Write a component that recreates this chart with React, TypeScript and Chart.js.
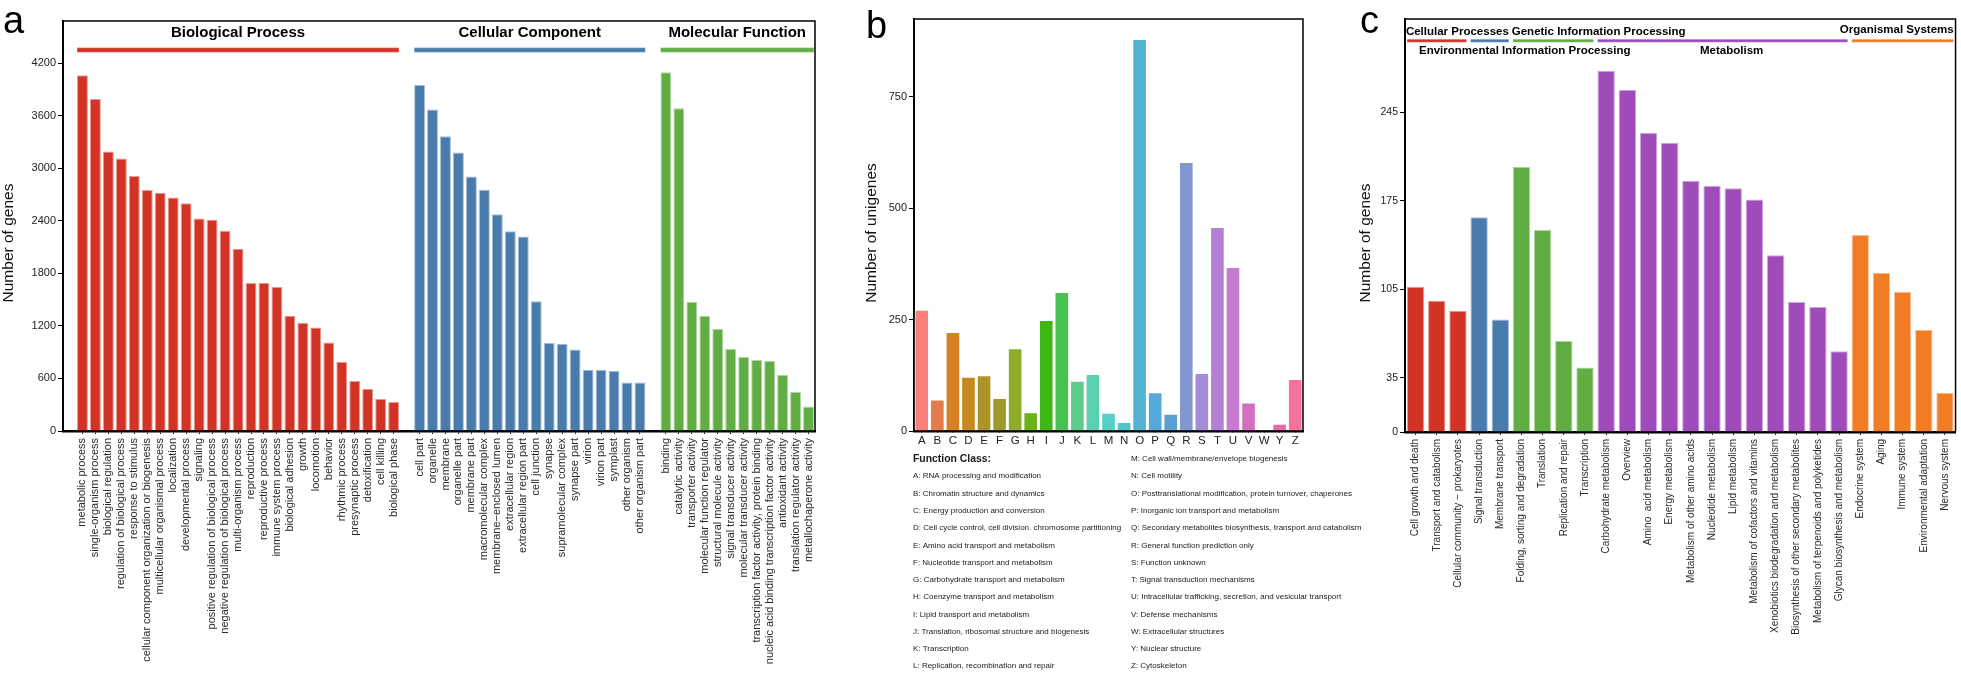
import { useEffect, useRef } from 'react';
import { Chart, registerables } from 'chart.js';
Chart.register(...registerables);

const FONT = '"Liberation Sans", Arial, Helvetica, sans-serif';
const H = 674;

// ---------- Panel a: GO ----------
const bpLabels = ['metabolic process', 'single-organism process', 'biological regulation', 'regulation of biological process', 'response to stimulus', 'cellular component organization or biogenesis', 'multicellular organismal process', 'localization', 'developmental process', 'signaling', 'positive regulation of biological process', 'negative regulation of biological process', 'multi-organism process', 'reproduction', 'reproductive process', 'immune system process', 'biological adhesion', 'growth', 'locomotion', 'behavior', 'rhythmic process', 'presynaptic process', 'detoxification', 'cell killing', 'biological phase'];
const bpValues = [4060, 3790, 3190, 3110, 2910, 2750, 2720, 2665, 2600, 2425, 2410, 2285, 2080, 1690, 1690, 1645, 1315, 1235, 1180, 1010, 790, 570, 480, 365, 330];
const ccLabels = ['cell part', 'organelle', 'membrane', 'organelle part', 'membrane part', 'macromolecular complex', 'membrane\u2212enclosed lumen', 'extracellular region', 'extracellular region part', 'cell junction', 'synapse', 'supramolecular complex', 'synapse part', 'virion', 'virion part', 'symplast', 'other organism', 'other organism part'];
const ccValues = [3950, 3670, 3365, 3180, 2905, 2755, 2475, 2280, 2220, 1480, 1005, 995, 930, 700, 700, 685, 555, 555];
const mfLabels = ['binding', 'catalytic activity', 'transporter activity', 'molecular function regulator', 'structural molecule activity', 'signal transducer activity', 'molecular transducer activity', 'transcription factor activity, protein binding', 'nucleic acid binding transcription factor activity', 'antioxidant activity', 'translation regulator activity', 'metallochaperone activity'];
const mfValues = [4095, 3685, 1475, 1315, 1165, 935, 845, 810, 800, 640, 445, 280];
const goGroupNames = ['Biological Process', 'Cellular Component', 'Molecular Function'];
const goTicks = [0, 600, 1200, 1800, 2400, 3000, 3600, 4200];
const goAxisMax = 4680;

// ---------- Panel b: COG ----------
const cogLetters = ['A', 'B', 'C', 'D', 'E', 'F', 'G', 'H', 'I', 'J', 'K', 'L', 'M', 'N', 'O', 'P', 'Q', 'R', 'S', 'T', 'U', 'V', 'W', 'Y', 'Z'];
const cogValues = [272, 71, 222, 122, 125, 74, 186, 42, 249, 312, 113, 128, 41, 20, 880, 87, 39, 604, 130, 458, 368, 64, 2, 16, 117];
const cogDescriptions = [
  'A: RNA processing and modification',
  'B: Chromatin structure and dynamics',
  'C: Energy production and conversion',
  'D: Cell cycle control, cell division. chromosome partitioning',
  'E: Amino acid transport and metabolism',
  'F: Nucleotide transport and metabolism',
  'G: Carbohydrate transport and metabolism',
  'H: Coenzyme transport and metabolism',
  'I: Lipid transport and metabolism',
  'J: Translation, ribosomal structure and biogenesis',
  'K: Transcription',
  'L: Replication, recombination and repair',
  'M: Cell wall/membrane/envelope biogenesis',
  'N: Cell motility',
  'O: Posttranslational modification, protein turnover, chaperones',
  'P: Inorganic ion transport and metabolism',
  'Q: Secondary metabolites biosynthesis, transport and catabolism',
  'R: General function prediction only',
  'S: Function unknown',
  'T: Signal transduction mechanisms',
  'U: Intracellular trafficking, secretion, and vesicular transport',
  'V: Defense mechanisms',
  'W: Extracellular structures',
  'Y: Nuclear structure',
  'Z: Cytoskeleton',
];
const cogTicks = [0, 250, 500, 750];
const cogAxisMax = 925;

// ---------- Panel c: KEGG ----------
const keggCategories = ['Cell growth and death', 'Transport and catabolism', 'Cellular community \u2212 prokaryotes', 'Signal transduction', 'Membrane transport', 'Folding, sorting and degradation', 'Translation', 'Replication and repair', 'Transcription', 'Carbohydrate metabolism', 'Overview', 'Amino  acid metabolism', 'Energy metabolism', 'Metabolism of other amino acids', 'Nucleotide metabolism', 'Lipid metabolism', 'Metabolism of cofactors and vitamins', 'Xenobiotics biodegradation and metabolism', 'Biosynthesis of other secondary metabolites', 'Metabolism of terpenoids and polyketides', 'Glycan biosynthesis and metabolism', 'Endocrine system', 'Aging', 'Immune system', 'Environmental adaptation', 'Nervous system'];
const keggValues = [107, 96, 88, 162, 81, 202, 152, 64, 43, 278, 263, 229, 221, 191, 187, 185, 176, 132, 95, 91, 56, 148, 118, 103, 73, 23];
const keggGroupNames = ['Cellular Processes', 'Environmental Information Processing', 'Genetic Information Processing', 'Metabolism', 'Organismal Systems'];
const keggGroupSizes = [3, 2, 4, 12, 5];
const keggTicks = [0, 35, 105, 175, 245];
const keggAxisMin = -8;
const keggAxisMax = 319;

// ---------- styles ----------
const RED = '#D23324';
const BLUE = '#497BAC';
const GREEN = '#5FAD43';
const PURPLE = '#A04BBA';
const ORANGE = '#F27C24';
const keggColors = [RED, BLUE, GREEN, PURPLE, ORANGE];
const cogColors = ['#F8807A', '#E57D4B', '#D58222', '#C4891F', '#AE9326', '#A09A2B', '#8DAD2A', '#6BB117', '#3DB815', '#47C152', '#5ECC8C', '#5BD0B0', '#55D0C8', '#50C2D0', '#52B3D3', '#55A8DA', '#5A9FD2', '#8297D0', '#A38BD6', '#B57FD5', '#C77AD2', '#D26FC0', '#E06AAD', '#E66BA8', '#F7729A'];

function tint(hex: string, a: number) {
  const n = parseInt(hex.slice(1), 16);
  const r = (n >> 16) & 255, g = (n >> 8) & 255, b = n & 255;
  const m = (v: number) => Math.round(v + (255 - v) * a);
  return `rgb(${m(r)},${m(g)},${m(b)})`;
}

function frameAndTitlePlugin(opts: { letter: string; letterX: number; letterY: number; title: string; titleX: number; titleY: number }) {
  return {
    id: 'frame',
    afterDraw(chart: any) {
      const { ctx, chartArea } = chart;
      ctx.save();
      ctx.strokeStyle = '#000';
      ctx.lineWidth = 1.5;
      ctx.beginPath();
      ctx.moveTo(chartArea.left, chartArea.top);
      ctx.lineTo(chartArea.right, chartArea.top);
      ctx.lineTo(chartArea.right, chartArea.bottom);
      ctx.stroke();
      ctx.fillStyle = '#000';
      ctx.font = `38px ${FONT}`;
      ctx.textAlign = 'left';
      ctx.textBaseline = 'alphabetic';
      ctx.fillText(opts.letter, opts.letterX, opts.letterY);
      ctx.translate(opts.titleX, opts.titleY);
      ctx.rotate(-Math.PI / 2);
      ctx.font = `15.5px ${FONT}`;
      ctx.textAlign = 'center';
      ctx.textBaseline = 'middle';
      ctx.fillStyle = '#111';
      ctx.fillText(opts.title, 0, 0);
      ctx.restore();
    },
  };
}

function yAxis(ticks: number[], min: number, max: number, width: number, fontSize: number, label?: (v: number) => string) {
  return {
    min,
    max,
    afterBuildTicks: (ax: any) => {
      ax.ticks = ticks.map((v) => ({ value: v === 0 ? min : v }));
    },
    ticks: {
      font: { size: fontSize, family: FONT },
      color: '#222',
      padding: 2,
      callback: (v: any) => (label ? label(v) : String(v)),
    },
    grid: { drawOnChartArea: false, tickLength: 5, tickColor: '#000', tickWidth: 1 },
    border: { display: true, color: '#000', width: 2 },
    afterFit: (s: any) => {
      s.width = width;
    },
  };
}

function makeA() {
  const labels = ['', ...bpLabels, '', ...ccLabels, '', ...mfLabels];
  const data = [null, ...bpValues, null, ...ccValues, null, ...mfValues];
  const groupColors = [RED, BLUE, GREEN];
  const groupLists = [bpLabels, ccLabels, mfLabels];
  const colors: string[] = [];
  const groups: { name: string; start: number; end: number; color: string }[] = [];
  groupLists.forEach((list, gi) => {
    colors.push('rgba(0,0,0,0)');
    const start = colors.length;
    list.forEach(() => colors.push(groupColors[gi]));
    groups.push({ name: goGroupNames[gi], start, end: colors.length - 1, color: groupColors[gi] });
  });
  const barPct = 0.84;
  const header = {
    id: 'headerA',
    afterDraw(chart: any) {
      const { ctx, chartArea } = chart;
      const x = chart.scales.x;
      const half = ((x.getPixelForValue(1) - x.getPixelForValue(0)) * barPct) / 2;
      ctx.save();
      groups.forEach((g) => {
        const x0 = x.getPixelForValue(g.start) - half;
        const x1 = x.getPixelForValue(g.end) + half;
        ctx.fillStyle = tint(g.color, 0.45);
        ctx.fillRect(x0, chartArea.top + 26.5, x1 - x0, 5);
        ctx.fillStyle = g.color;
        ctx.fillRect(x0 + 0.5, chartArea.top + 27.2, x1 - x0 - 1, 3.6);
        ctx.fillStyle = '#000';
        ctx.font = `bold 15px ${FONT}`;
        ctx.textAlign = 'center';
        ctx.textBaseline = 'middle';
        ctx.fillText(g.name, (x0 + x1) / 2, chartArea.top + 12);
      });
      ctx.restore();
    },
  };
  return {
    type: 'bar',
    data: {
      labels,
      datasets: [
        {
          data,
          backgroundColor: colors,
          borderColor: colors.map((c) => (c.startsWith('#') ? tint(c, 0.5) : c)),
          borderWidth: 1,
          barPercentage: barPct,
          categoryPercentage: 1,
        },
      ],
    },
    options: {
      responsive: false,
      animation: false,
      events: [],
      layout: { padding: { left: 0, top: 21, right: 25, bottom: 0 } },
      plugins: { legend: { display: false }, tooltip: { enabled: false } },
      scales: {
        x: {
          offset: true,
          grid: {
            drawOnChartArea: false,
            offset: false,
            tickLength: 3,
            tickColor: (ctx: any) => (labels[ctx.index] ? '#222' : 'rgba(0,0,0,0)'),
          },
          border: { display: true, color: '#000', width: 2.5 },
          ticks: { autoSkip: false, maxRotation: 90, minRotation: 90, font: { size: 11, family: FONT }, color: '#2a2a2a', padding: 4 },
          afterFit: (s: any) => {
            s.height = H - 431;
          },
        },
        y: yAxis(goTicks, 0, goAxisMax, 63, 11),
      },
    },
    plugins: [header, frameAndTitlePlugin({ letter: 'a', letterX: 3, letterY: 33, title: 'Number of genes', titleX: 9, titleY: 243 })],
  };
}

function makeB() {
  const legend = {
    id: 'legendB',
    afterDraw(chart: any) {
      const { ctx, chartArea } = chart;
      ctx.save();
      ctx.fillStyle = '#1a1a1a';
      ctx.textAlign = 'left';
      ctx.textBaseline = 'middle';
      const leftX = chartArea.left - 1;
      const rightX = chartArea.left + 217;
      const y0 = 459;
      const step = 17.27;
      ctx.font = `bold 10.4px ${FONT}`;
      ctx.fillText('Function Class:', leftX, y0);
      ctx.font = `8px ${FONT}`;
      const half = 12;
      cogDescriptions.forEach((d, i) => {
        if (i < half) ctx.fillText(d, leftX, y0 + step * (i + 1));
        else ctx.fillText(d, rightX, y0 + step * (i - half));
      });
      ctx.restore();
    },
  };
  return {
    type: 'bar',
    data: {
      labels: cogLetters,
      datasets: [
        {
          data: cogValues,
          backgroundColor: cogColors,
          borderColor: 'rgba(255,255,255,0.55)',
          borderWidth: 1,
          barPercentage: 0.94,
          categoryPercentage: 1,
        },
      ],
    },
    options: {
      responsive: false,
      animation: false,
      events: [],
      layout: { padding: { left: 0, top: 19, right: 62, bottom: 0 } },
      plugins: { legend: { display: false }, tooltip: { enabled: false } },
      scales: {
        x: {
          offset: true,
          grid: { drawOnChartArea: false, offset: false, tickLength: 2, tickColor: '#222' },
          border: { display: true, color: '#000', width: 2.5 },
          ticks: { autoSkip: false, maxRotation: 0, minRotation: 0, font: { size: 11.5, family: FONT }, color: '#222', padding: 1 },
          afterFit: (s: any) => {
            s.height = H - 431;
          },
        },
        y: yAxis(cogTicks, 0, cogAxisMax, 74, 11),
      },
    },
    plugins: [legend, frameAndTitlePlugin({ letter: 'b', letterX: 26, letterY: 38, title: 'Number of unigenes', titleX: 32, titleY: 233 })],
  };
}

function makeC() {
  const colors: string[] = [];
  const groups: { name: string; start: number; end: number; color: string }[] = [];
  keggGroupSizes.forEach((n, gi) => {
    const start = colors.length;
    for (let i = 0; i < n; i++) colors.push(keggColors[gi]);
    groups.push({ name: keggGroupNames[gi], start, end: colors.length - 1, color: keggColors[gi] });
  });
  const barPct = 0.82;
  const header = {
    id: 'headerC',
    afterDraw(chart: any) {
      const { ctx, chartArea } = chart;
      const x = chart.scales.x;
      const half = ((x.getPixelForValue(1) - x.getPixelForValue(0)) * barPct) / 2;
      ctx.save();
      ctx.font = `bold 11.5px ${FONT}`;
      ctx.textBaseline = 'middle';
      groups.forEach((g, gi) => {
        const x0 = x.getPixelForValue(g.start) - half;
        const x1 = x.getPixelForValue(g.end) + half;
        ctx.fillStyle = tint(g.color, 0.45);
        ctx.fillRect(x0, chartArea.top + 20.2, x1 - x0, 3.2);
        ctx.fillStyle = g.color;
        ctx.fillRect(x0 + 0.5, chartArea.top + 20.7, x1 - x0 - 1, 2.2);
        ctx.fillStyle = '#000';
        if (gi === 0 || gi === 2) {
          ctx.textAlign = 'left';
          ctx.fillText(g.name, x0 - 1, chartArea.top + 13);
        } else if (gi === 1) {
          ctx.textAlign = 'left';
          ctx.fillText(g.name, chartArea.left + 14, chartArea.top + 32);
        } else if (gi === 3) {
          ctx.textAlign = 'center';
          ctx.fillText(g.name, (x0 + x1) / 2 + 9, chartArea.top + 32);
        } else {
          ctx.textAlign = 'right';
          ctx.fillText(g.name, x1, chartArea.top + 11);
        }
      });
      ctx.restore();
    },
  };
  return {
    type: 'bar',
    data: {
      labels: keggCategories,
      datasets: [
        {
          data: keggValues,
          base: keggAxisMin,
          backgroundColor: colors,
          borderColor: colors.map((c) => tint(c, 0.5)),
          borderWidth: 1,
          barPercentage: barPct,
          categoryPercentage: 1,
        },
      ],
    },
    options: {
      responsive: false,
      animation: false,
      events: [],
      layout: { padding: { left: 0, top: 19, right: 2, bottom: 0 } },
      plugins: { legend: { display: false }, tooltip: { enabled: false } },
      scales: {
        x: {
          offset: true,
          grid: { drawOnChartArea: false, offset: false, tickLength: 3, tickColor: '#222' },
          border: { display: true, color: '#000', width: 2.5 },
          ticks: { autoSkip: false, maxRotation: 90, minRotation: 90, font: { size: 10, family: FONT }, color: '#2a2a2a', padding: 4 },
          afterFit: (s: any) => {
            s.height = H - 432;
          },
        },
        y: yAxis(keggTicks, keggAxisMin, keggAxisMax, 55, 10.5, (v) => (v < 0 ? '0' : String(v))),
      },
    },
    plugins: [header, frameAndTitlePlugin({ letter: 'c', letterX: 10, letterY: 33, title: 'Number of genes', titleX: 16, titleY: 243 })],
  };
}

function ChartCanvas({ left, width, make }: { left: number; width: number; make: () => any }) {
  const ref = useRef<HTMLCanvasElement>(null);
  useEffect(() => {
    const chart = new Chart(ref.current as HTMLCanvasElement, make());
    return () => chart.destroy();
  }, []);
  return <canvas ref={ref} width={width} height={H} style={{ position: 'absolute', left, top: 0, width, height: H }} />;
}

export default function App() {
  return (
    <div style={{ position: 'absolute', left: 0, top: 0, width: 1961, height: H, background: '#fff', overflow: 'hidden' }}>
      <ChartCanvas left={0} width={840} make={makeA} />
      <ChartCanvas left={840} width={525} make={makeB} />
      <ChartCanvas left={1350} width={611} make={makeC} />
    </div>
  );
}
